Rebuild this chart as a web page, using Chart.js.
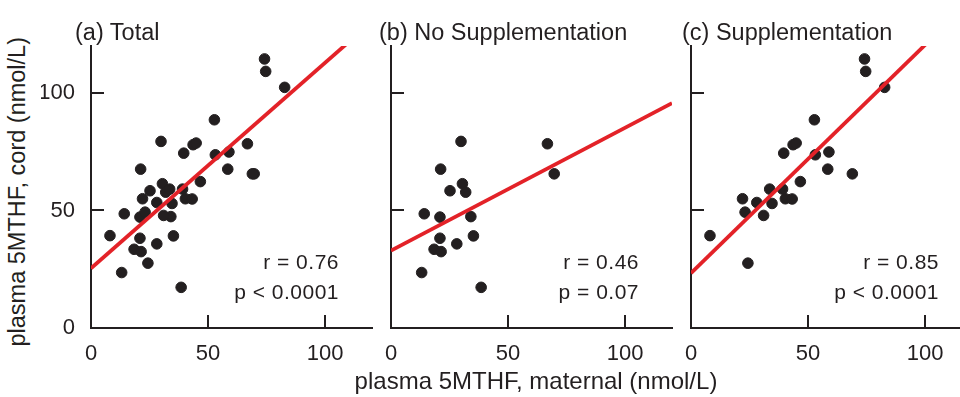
<!DOCTYPE html>
<html>
<head>
<meta charset="utf-8">
<script src="https://cdn.jsdelivr.net/npm/chart.js@4.4.1/dist/chart.umd.min.js"></script>
<style>
  body { margin: 0; width: 960px; height: 397px; overflow: hidden; background: #fff; position: relative;
         font-family: 'Liberation Sans', Arial, sans-serif; color: #231f20; }
  canvas { position: absolute; top: 0; }
  .txt { position: absolute; white-space: nowrap; line-height: 1; }
  .title { font-size: 23.5px; top: 21px; }
  .stat { font-size: 21px; letter-spacing: 0.5px; text-align: right; width: 140px; }
</style>
</head>
<body>
<canvas id="c0" width="341" height="397" style="left:41px"></canvas>
<canvas id="c1" width="341" height="397" style="left:341px"></canvas>
<canvas id="c2" width="341" height="397" style="left:641px"></canvas>

<div class="txt title" style="left:75px">(a) Total</div>
<div class="txt title" style="left:379px">(b) No Supplementation</div>
<div class="txt title" style="left:682px">(c) Supplementation</div>

<div class="txt stat" style="left:199px;top:251px">r = 0.76</div>
<div class="txt stat" style="left:199px;top:281px">p &lt; 0.0001</div>
<div class="txt stat" style="left:499px;top:251px">r = 0.46</div>
<div class="txt stat" style="left:499px;top:281px">p = 0.07</div>
<div class="txt stat" style="left:799px;top:251px">r = 0.85</div>
<div class="txt stat" style="left:799px;top:281px">p &lt; 0.0001</div>

<div class="txt" style="font-size:23.5px;left:-182px;top:180px;width:400px;text-align:center;transform:rotate(-90deg)">plasma 5MTHF, cord (nmol/L)</div>
<div class="txt" style="font-size:24px;left:336px;top:369px;width:400px;text-align:center">plasma 5MTHF, maternal (nmol/L)</div>

<script>
// maternal (x) vs cord (y) plasma 5MTHF, nmol/L
const noSuppX = [29.9, 66.8, 21.2, 69.7, 30.5, 25.2, 31.9, 14.2, 20.9, 34.1, 20.9, 35.2, 28.1, 18.4, 21.4, 13.1, 38.5];
const noSuppY = [79.4, 78.4, 67.6, 65.6, 61.4, 58.4, 57.8, 48.6, 47.2, 47.4, 38.2, 39.2, 35.8, 33.5, 32.5, 23.6, 17.3];

const suppX = [74.1, 74.6, 82.7, 52.7, 43.6, 44.9, 39.6, 53.1, 58.9, 58.4, 68.9, 46.7, 33.6, 39.1, 22.0, 28.1, 34.6, 40.3, 43.2, 23.1, 31.0, 8.1, 24.3];
const suppY = [114.5, 109.2, 102.4, 88.6, 78.0, 78.7, 74.4, 73.7, 74.9, 67.6, 65.6, 62.3, 59.1, 59.1, 55.0, 53.4, 53.0, 55.0, 54.9, 49.3, 47.9, 39.3, 27.6];

// fitted lines, one per panel: total, no supplementation, supplementation
const fitIntercept = [25.4, 32.9, 23.3];
const fitSlope = [0.875, 0.523, 0.972];

const tickVals = [0, 50, 100];
const axisMax = 120;

const ink = '#231f20';
const red = '#e32228';

const toPts = (xs, ys) => xs.map((x, i) => ({x: x, y: ys[i]}));
const panels = [
    toPts(noSuppX, noSuppY).concat(toPts(suppX, suppY)),
    toPts(noSuppX, noSuppY),
    toPts(suppX, suppY)
];

// tick marks pointing into the plot, no mark at 0
const innerTicks = {
    id: 'innerTicks',
    beforeDatasetsDraw(chart) {
        const {ctx, chartArea, scales: {x, y}} = chart;
        ctx.save();
        ctx.strokeStyle = ink;
        ctx.lineWidth = 2;
        ctx.beginPath();
        tickVals.slice(1).forEach(v => {
            const px = Math.round(x.getPixelForValue(v));
            ctx.moveTo(px, chartArea.bottom);
            ctx.lineTo(px, chartArea.bottom - 13);
            const py = Math.round(y.getPixelForValue(v));
            ctx.moveTo(chartArea.left, py);
            ctx.lineTo(chartArea.left + 13, py);
        });
        ctx.stroke();
        ctx.restore();
    }
};

const setTicks = scale => { scale.ticks = tickVals.map(v => ({value: v})); };

panels.forEach((pts, i) => {
    new Chart(document.getElementById('c' + i), {
        type: 'scatter',
        data: {
            datasets: [{
                data: [0, axisMax].map(x => ({x: x, y: fitIntercept[i] + fitSlope[i] * x})),
                showLine: true,
                borderColor: red,
                borderWidth: 3.8,
                pointRadius: 0
            }, {
                data: pts,
                backgroundColor: ink,
                borderColor: ink,
                borderWidth: 1,
                pointRadius: 5.3
            }]
        },
        options: {
            responsive: false,
            animation: false,
            events: [],
            layout: {padding: {top: 46, right: 10, left: 0, bottom: 0}},
            plugins: {legend: {display: false}, tooltip: {enabled: false}},
            scales: {
                x: {
                    type: 'linear', min: 0, max: axisMax,
                    afterBuildTicks: setTicks,
                    afterFit: s => { s.height = 69; },
                    grid: {display: false},
                    border: {display: true, color: ink, width: 2},
                    ticks: {color: ink, padding: 5, maxRotation: 0,
                            font: {family: "'Liberation Sans', Arial", size: 22}}
                },
                y: {
                    type: 'linear', min: 0, max: axisMax,
                    afterBuildTicks: setTicks,
                    afterFit: s => { s.width = 50; },
                    grid: {display: false},
                    border: {display: true, color: ink, width: 2},
                    ticks: {display: i === 0, color: ink, padding: 8,
                            font: {family: "'Liberation Sans', Arial", size: 22}}
                }
            }
        },
        plugins: [innerTicks]
    });
});
</script>
</body>
</html>
